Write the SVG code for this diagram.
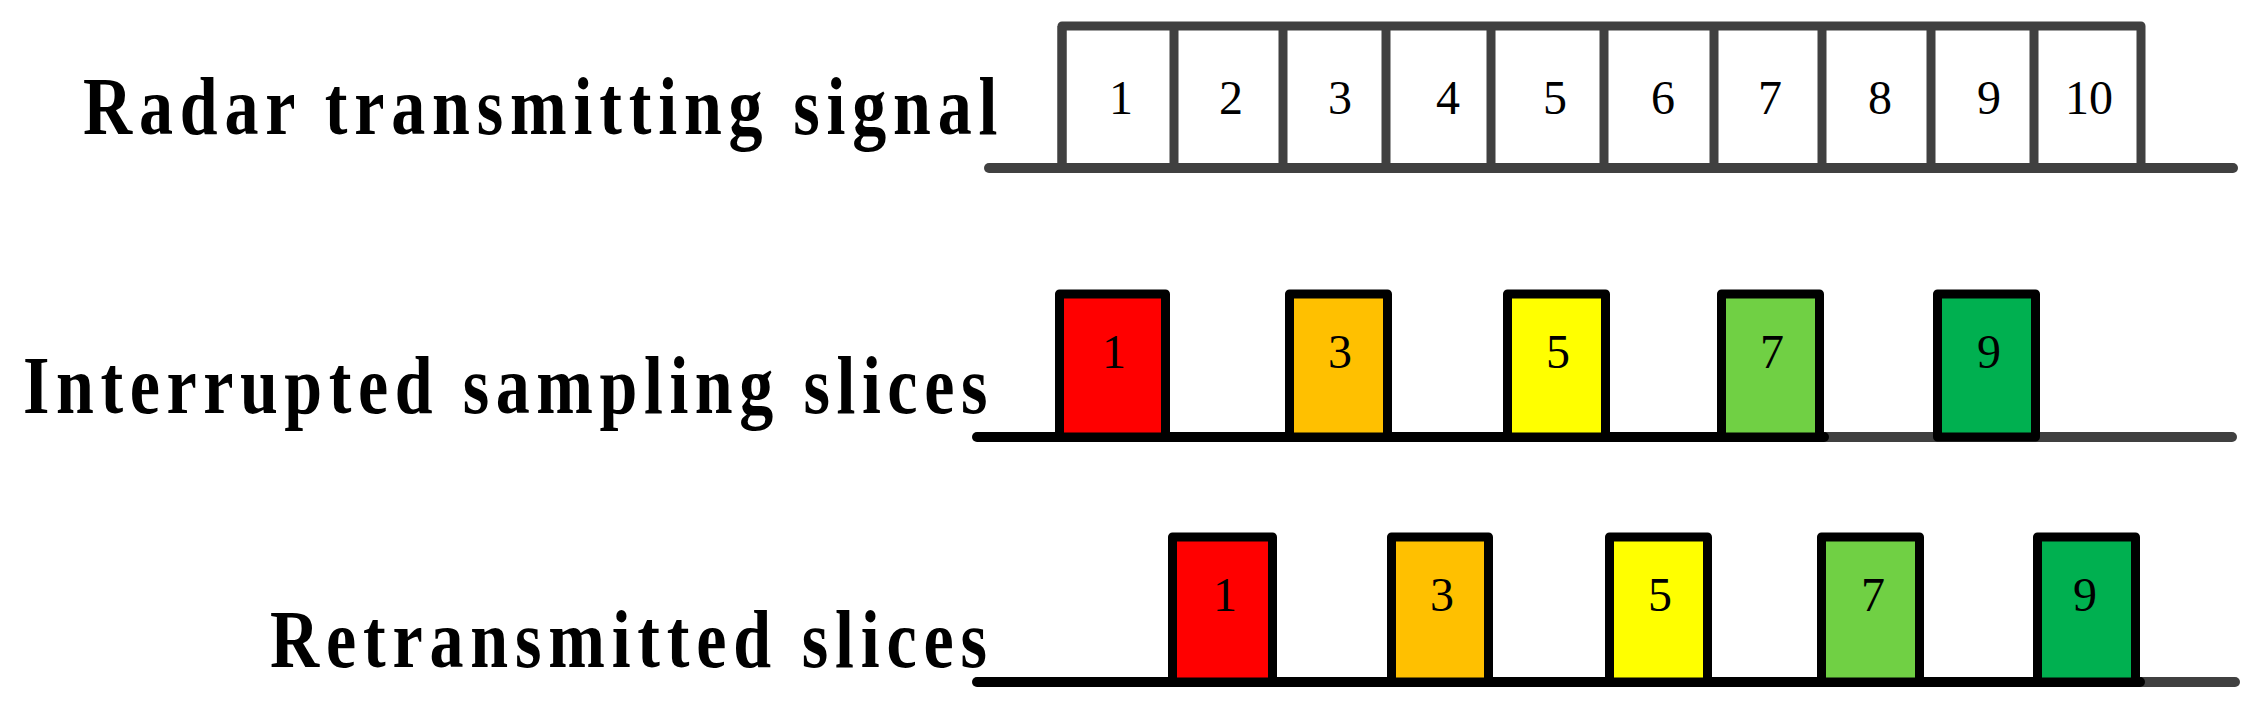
<svg xmlns="http://www.w3.org/2000/svg" width="2259" height="712" viewBox="0 0 2259 712">
<style>
.title{font-family:"Liberation Serif","Times New Roman",serif;font-weight:bold;font-size:83px;fill:#000}
.num{font-family:"Liberation Serif","Times New Roman",serif;font-size:48px;fill:#000;text-anchor:middle}
.cell{fill:none;stroke:#404040;stroke-width:9;stroke-linejoin:round;stroke-linecap:butt}
.blk{stroke:#000;stroke-width:9;stroke-linejoin:round}
.bl{fill:none;stroke:#000;stroke-width:10;stroke-linecap:round}
.blg{fill:none;stroke:#404040;stroke-width:10;stroke-linecap:round}
</style>
<rect width="2259" height="712" fill="#fff"/>

<g id="connectors">
  <line class="blg" x1="989" y1="168" x2="2233" y2="168"/>
  <line class="blg" x1="1824" y1="437" x2="2232" y2="437"/>
  <line class="bl" x1="977" y1="437" x2="1824" y2="437"/>
  <line class="blg" x1="2140" y1="682" x2="2235" y2="682"/>
  <line class="bl" x1="977" y1="682" x2="2140" y2="682"/>
</g>

<g id="labels">
  <text class="title" transform="translate(83,134) scale(0.82,1)" letter-spacing="8.3">Radar transmitting signal</text>
  <text class="title" transform="translate(23,413) scale(0.82,1)" letter-spacing="8">Interrupted sampling slices</text>
  <text class="title" transform="translate(270,667) scale(0.82,1)" letter-spacing="8.3">Retransmitted slices</text>
</g>

<g id="radar-signal">
  <path class="cell" d="M1062,168 V26 H2141 V168"/>
  <g id="cell-1"><line class="cell" x1="1062" y1="26" x2="1062" y2="168"/><text class="num" x="1121" y="114">1</text></g>
  <g id="cell-2"><line class="cell" x1="1174" y1="26" x2="1174" y2="168"/><text class="num" x="1231" y="114">2</text></g>
  <g id="cell-3"><line class="cell" x1="1283" y1="26" x2="1283" y2="168"/><text class="num" x="1340" y="114">3</text></g>
  <g id="cell-4"><line class="cell" x1="1386" y1="26" x2="1386" y2="168"/><text class="num" x="1448" y="114">4</text></g>
  <g id="cell-5"><line class="cell" x1="1491" y1="26" x2="1491" y2="168"/><text class="num" x="1555" y="114">5</text></g>
  <g id="cell-6"><line class="cell" x1="1604" y1="26" x2="1604" y2="168"/><text class="num" x="1663" y="114">6</text></g>
  <g id="cell-7"><line class="cell" x1="1714" y1="26" x2="1714" y2="168"/><text class="num" x="1770" y="114">7</text></g>
  <g id="cell-8"><line class="cell" x1="1822" y1="26" x2="1822" y2="168"/><text class="num" x="1880" y="114">8</text></g>
  <g id="cell-9"><line class="cell" x1="1931" y1="26" x2="1931" y2="168"/><text class="num" x="1989" y="114">9</text></g>
  <g id="cell-10"><line class="cell" x1="2034" y1="26" x2="2034" y2="168"/><text class="num" x="2089" y="114">10</text></g>
</g>

<g id="sampling-slices">
  <g id="s1"><path class="blk" fill="#FF0000" d="M1059.5,437 V294 H1165.5 V437 Z"/><text class="num" x="1114" y="368">1</text></g>
  <g id="s3"><path class="blk" fill="#FFC000" d="M1289.5,437 V294 H1387.5 V437 Z"/><text class="num" x="1340" y="368">3</text></g>
  <g id="s5"><path class="blk" fill="#FFFF00" d="M1507.5,437 V294 H1605.5 V437 Z"/><text class="num" x="1558" y="368">5</text></g>
  <g id="s7"><path class="blk" fill="#70D044" d="M1721.5,437 V294 H1819.5 V437 Z"/><text class="num" x="1772" y="368">7</text></g>
  <g id="s9"><path class="blk" fill="#00B050" d="M1937.5,437 V294 H2035.5 V437 Z"/><text class="num" x="1989" y="368">9</text></g>
</g>

<g id="retransmitted-slices">
  <g id="r1"><path class="blk" fill="#FF0000" d="M1172.5,682 V537 H1272.5 V682 Z"/><text class="num" x="1225" y="611">1</text></g>
  <g id="r3"><path class="blk" fill="#FFC000" d="M1391.5,682 V537 H1488.5 V682 Z"/><text class="num" x="1442" y="611">3</text></g>
  <g id="r5"><path class="blk" fill="#FFFF00" d="M1609.5,682 V537 H1707.5 V682 Z"/><text class="num" x="1660" y="611">5</text></g>
  <g id="r7"><path class="blk" fill="#70D044" d="M1821.5,682 V537 H1919.5 V682 Z"/><text class="num" x="1873" y="611">7</text></g>
  <g id="r9"><path class="blk" fill="#00B050" d="M2037.5,682 V537 H2135.5 V682 Z"/><text class="num" x="2085" y="611">9</text></g>
</g>
</svg>
